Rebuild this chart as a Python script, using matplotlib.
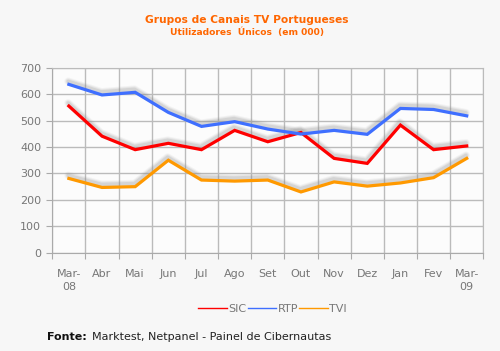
import matplotlib.pyplot as plt
import matplotlib.transforms as mtransforms

meses = ["Mar-\n08", "Abr", "Mai", "Jun", "Jul", "Ago", "Set", "Out", "Nov", "Dez", "Jan", "Fev", "Mar-\n09"]
sic = [555, 441, 390, 414, 390, 463, 420, 455, 357, 338, 483, 390, 404]
rtp = [637, 597, 607, 531, 478, 496, 468, 449, 463, 448, 546, 542, 518]
tvi = [281, 247, 250, 350, 275, 271, 275, 230, 268, 252, 264, 284, 357]

fig = plt.figure(figsize=(5, 3.51), dpi=100, facecolor="#f7f7f7")
ax = fig.add_axes([0.1046, 0.280, 0.862, 0.527], facecolor="#fcfcfc")

x = list(range(len(meses)))
series = [("SIC", sic, "#ff0000"), ("RTP", rtp, "#3f6fff"), ("TVI", tvi, "#ff9900")]

# gray shadow a bit above each line
shadow = mtransforms.offset_copy(ax.transData, fig=fig, x=-0.5, y=2.2, units="points")
for nome, vals, cor in series:
    for lw, a in [(5.5, 0.08), (4, 0.12), (2.5, 0.18)]:
        ax.plot(x, vals, color="#888888", lw=lw, alpha=a, transform=shadow,
                solid_joinstyle="round", solid_capstyle="round")
handles = []
for nome, vals, cor in series:
    ax.plot(x, vals, color=cor, lw=2.3, solid_joinstyle="miter", zorder=3)
    h, = plt.plot([], [], color=cor, lw=1)
    handles.append((h, nome))

ax.set_xlim(-0.5, len(meses) - 0.5)
ax.set_ylim(0, 700)
ax.set_yticks(range(0, 701, 100))
ax.set_xticks([i - 0.5 for i in range(len(meses) + 1)], minor=False)
ax.set_xticklabels([])
ax.set_xticks(x, minor=True)
ax.set_xticklabels(meses, minor=True)
ax.tick_params(axis="x", which="minor", length=0, pad=12)
ax.tick_params(axis="x", which="major", length=4, color="#aaaaaa")
ax.tick_params(axis="y", length=4, color="#aaaaaa", pad=4)
ax.tick_params(which="both", labelsize=8, labelcolor="#777777")
for lab in ax.get_xticklabels(minor=True):
    lab.set_linespacing(1.3)
ax.grid(True, which="major", color="#bbbbbb", lw=1)
ax.set_axisbelow(True)
for s in ax.spines.values():
    s.set_color("#bbbbbb")
ax.spines["left"].set_color("#aaaaaa")
ax.spines["bottom"].set_color("#aaaaaa")

fig.text(0.494, 0.943, "Grupos de Canais TV Portugueses", ha="center", va="center",
         color="#ff6600", fontsize=7.7, fontweight="bold")
fig.text(0.494, 0.907, "Utilizadores  Únicos  (em 000)", ha="center", va="center",
         color="#ff6600", fontsize=6.6, fontweight="bold")

leg = fig.legend([h for h, n in handles], [n for h, n in handles], loc="center",
                 bbox_to_anchor=(0.545, 0.12), ncol=3, frameon=False, fontsize=8,
                 handlelength=2.6, handletextpad=0.1, columnspacing=0.1)
for t in leg.get_texts():
    t.set_color("#777777")

fig.text(0.094, 0.041, "Fonte:", fontsize=8, fontweight="bold", color="#111111", va="center")
fig.text(0.183, 0.041, "Marktest, Netpanel - Painel de Cibernautas", fontsize=8,
         color="#222222", va="center")

fig.savefig("out.png", dpi=100, facecolor=fig.get_facecolor())
